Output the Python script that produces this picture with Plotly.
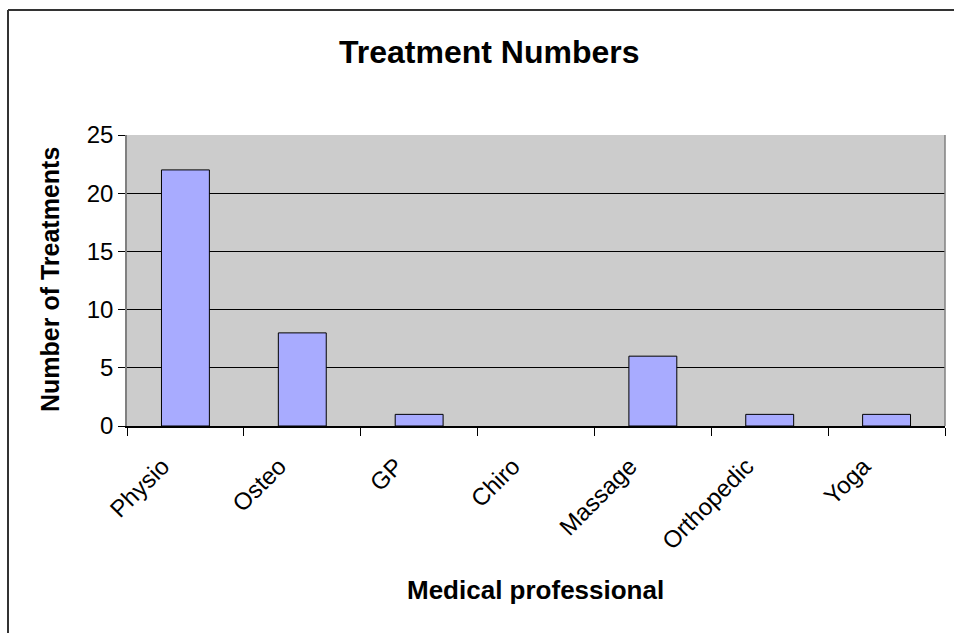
import plotly.graph_objects as go

categories = ["Physio", "Osteo", "GP", "Chiro", "Massage", "Orthopedic", "Yoga"]
treatments = [22, 8, 1, 0, 6, 1, 1]
y_ticks = [0, 5, 10, 15, 20, 25]

FONT = "Liberation Sans, Arial, sans-serif"
W, H = 954, 633
L, R, T, B = 127, 9, 135, 207
pw = W - L - R
ph = H - T - B

def px_to_paper_x(px):
    return (px - L) / pw

def px_to_paper_y(py):
    return (H - B - py) / ph

fig = go.Figure()
fig.add_trace(go.Bar(
    x=categories, y=treatments,
    width=0.41,
    marker=dict(color="#a8abff",
                line=dict(color="#000000", width=[1 if v > 0 else 0 for v in treatments])),
    hoverinfo="x+y",
))

shapes = []
bx = px_to_paper_x(8)
by = px_to_paper_y(10)
shapes.append(dict(type="line", xref="paper", yref="paper", x0=bx, x1=1.2, y0=by, y1=by,
                   line=dict(color="#333333", width=2)))
shapes.append(dict(type="line", xref="paper", yref="paper", x0=bx, x1=bx, y0=by, y1=-1,
                   line=dict(color="#333333", width=2)))
shapes.append(dict(type="line", xref="paper", yref="paper", x0=1, x1=1, y0=0, y1=1,
                   line=dict(color="#808080", width=1.5)))

fig.update_layout(
    width=W, height=H,
    margin=dict(l=L, r=R, t=T, b=B, pad=0),
    paper_bgcolor="white",
    plot_bgcolor="#cccccc",
    font=dict(family=FONT, color="black", size=24),
    showlegend=False,
    shapes=shapes,
    annotations=[
        dict(text="<b>Treatment Numbers</b>", xref="paper", yref="paper",
             x=px_to_paper_x(489), y=px_to_paper_y(52), xanchor="center", yanchor="middle",
             showarrow=False, font=dict(size=32, family=FONT)),
        dict(text="<b>Medical professional</b>", xref="paper", yref="paper",
             x=px_to_paper_x(535), y=px_to_paper_y(590), xanchor="center", yanchor="middle",
             showarrow=False, font=dict(size=26, family=FONT)),
        dict(text="<b>Number of Treatments</b>", xref="paper", yref="paper",
             x=px_to_paper_x(50), y=px_to_paper_y(280), xanchor="center", yanchor="middle",
             textangle=-90, showarrow=False, font=dict(size=25, family=FONT)),
    ],
)

fig.update_xaxes(
    type="category",
    categoryorder="array", categoryarray=categories,
    tickangle=-45,
    ticks="outside", ticklen=8, tickcolor="#000000", tickwidth=1,
    tickson="boundaries",
    ticklabelstandoff=15,
    ticklabelshift=-23,
    showline=True, linecolor="#000000", linewidth=1.5,
    showgrid=False,
    tickfont=dict(size=24, family=FONT),
    range=[-0.5, len(categories) - 0.5],
)
fig.update_yaxes(
    range=[0, 25],
    tickvals=y_ticks,
    ticks="outside", ticklen=7, tickcolor="#000000", tickwidth=1,
    showline=True, linecolor="#808080", linewidth=1.5,
    showgrid=True, gridcolor="#000000", gridwidth=1,
    zeroline=False,
    tickfont=dict(size=24, family=FONT),
)

fig.write_html("out.html")
